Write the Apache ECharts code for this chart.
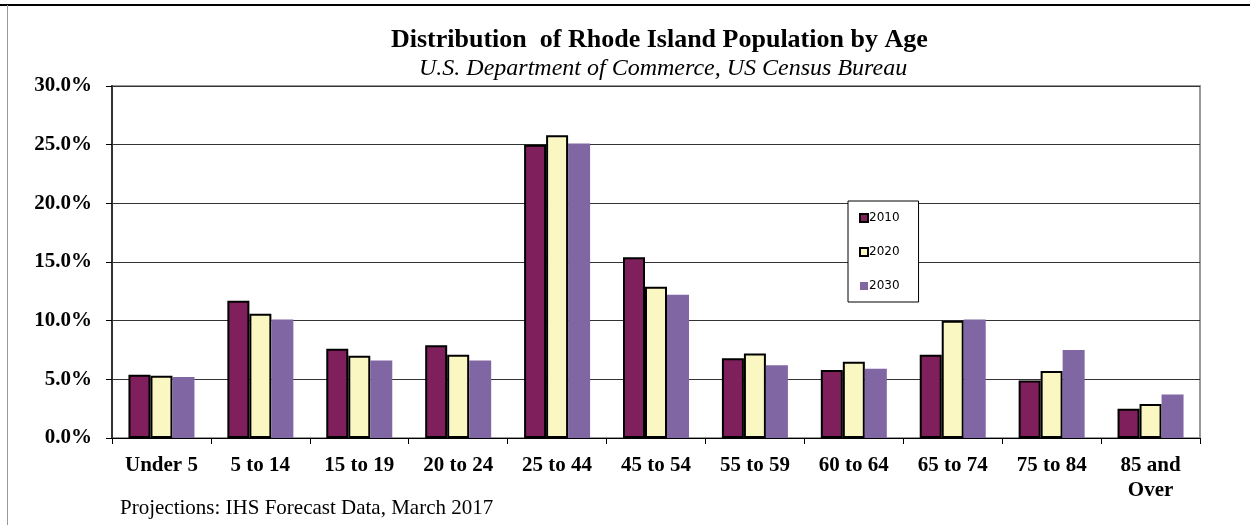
<!DOCTYPE html>
<html>
<head>
<meta charset="utf-8">
<script src="https://cdn.jsdelivr.net/npm/echarts@6/dist/echarts.min.js"></script>
<style>
  html, body { margin: 0; padding: 0; background: #fff; }
  #chart { width: 1250px; height: 525px; }
</style>
</head>
<body>
<div id="chart"></div>
<script>
// age groups on the x axis
var ageGroups = ['Under 5', '5 to 14', '15 to 19', '20 to 24', '25 to 44', '45 to 54',
                 '55 to 59', '60 to 64', '65 to 74', '75 to 84', '85 and\nOver'];
// percent of population
var pop2010 = [5.4, 11.7, 7.6, 7.9, 25.0, 15.4, 6.8, 5.8, 7.1, 4.9, 2.5];
var pop2020 = [5.3, 10.6, 7.0, 7.1, 25.8, 12.9, 7.2, 6.5, 10.0, 5.7, 2.9];
var pop2030 = [5.2, 10.1, 6.6, 6.6, 25.1, 12.2, 6.2, 5.9, 10.1, 7.5, 3.7];
var yTicks = [0, 5, 10, 15, 20, 25, 30];

var chart = echarts.init(document.getElementById('chart'));

var serif = '"Liberation Serif", "Times New Roman", serif';

chart.setOption({
  backgroundColor: '#fff',
  animation: false,
  title: [
    {
      text: 'Distribution  of Rhode Island Population by Age',
      left: 386,
      top: 22,
      textStyle: { fontFamily: serif, fontWeight: 'bold', fontSize: 26, color: '#000' }
    },
    {
      text: 'U.S. Department of Commerce, US Census Bureau',
      left: 414,
      top: 52,
      textStyle: { fontFamily: serif, fontStyle: 'italic', fontWeight: 'normal', fontSize: 24, color: '#000' }
    },
    {
      text: 'Projections: IHS Forecast Data, March 2017',
      left: 115,
      top: 493,
      textStyle: { fontFamily: serif, fontWeight: 'normal', fontSize: 21, color: '#000' }
    }
  ],
  graphic: [
    { type: 'line', shape: { x1: 0, y1: 5, x2: 1250, y2: 5 }, style: { stroke: '#000', lineWidth: 2 } },
    { type: 'line', shape: { x1: 7.5, y1: 5, x2: 7.5, y2: 525 }, style: { stroke: '#999', lineWidth: 1 } }
  ],
  legend: {
    orient: 'vertical',
    left: 848,
    top: 201,
    padding: [11, 19, 10, 11],
    itemGap: 22,
    itemWidth: 8,
    itemHeight: 8,
    icon: 'rect',
    borderColor: '#000',
    borderWidth: 1,
    backgroundColor: '#fff',
    textStyle: { fontFamily: '"DejaVu Sans", sans-serif', fontSize: 12, color: '#000', padding: [0, 0, 0, -4] },
    data: ['2010', '2020', '2030']
  },
  grid: {
    left: 112,
    right: 50,
    top: 86,
    bottom: 87,
    show: true,
    borderColor: '#999',
    borderWidth: 2,
    backgroundColor: '#fff'
  },
  xAxis: {
    type: 'category',
    data: ageGroups,
    axisLine: { lineStyle: { color: '#000', width: 1 } },
    axisTick: { show: true, length: 6, lineStyle: { color: '#000' } },
    axisLabel: {
      fontFamily: serif, fontWeight: 'bold', fontSize: 21, color: '#000',
      margin: 15, lineHeight: 25, interval: 0
    }
  },
  yAxis: {
    type: 'value',
    min: yTicks[0],
    max: yTicks[yTicks.length - 1],
    interval: 5,
    axisLine: { show: true, lineStyle: { color: '#333', width: 2 } },
    axisTick: { show: true, length: 6, lineStyle: { color: '#000' } },
    splitLine: { lineStyle: { color: '#333', width: 1 } },
    axisLabel: {
      fontFamily: serif, fontWeight: 'bold', fontSize: 21, color: '#000', margin: 20,
      formatter: function (v) { return v.toFixed(1) + '%'; }
    }
  },
  series: [
    {
      name: '2010', type: 'bar', data: pop2010, barWidth: 22, barGap: '0%',
      itemStyle: { color: '#7F1F5B', borderColor: '#000', borderWidth: 2 }
    },
    {
      name: '2020', type: 'bar', data: pop2020, barWidth: 22, barGap: '0%',
      itemStyle: { color: '#FAF7C3', borderColor: '#000', borderWidth: 2 }
    },
    {
      name: '2030', type: 'bar', data: pop2030, barWidth: 22, barGap: '0%',
      itemStyle: { color: '#8066A2' }
    }
  ]
});
</script>
</body>
</html>
